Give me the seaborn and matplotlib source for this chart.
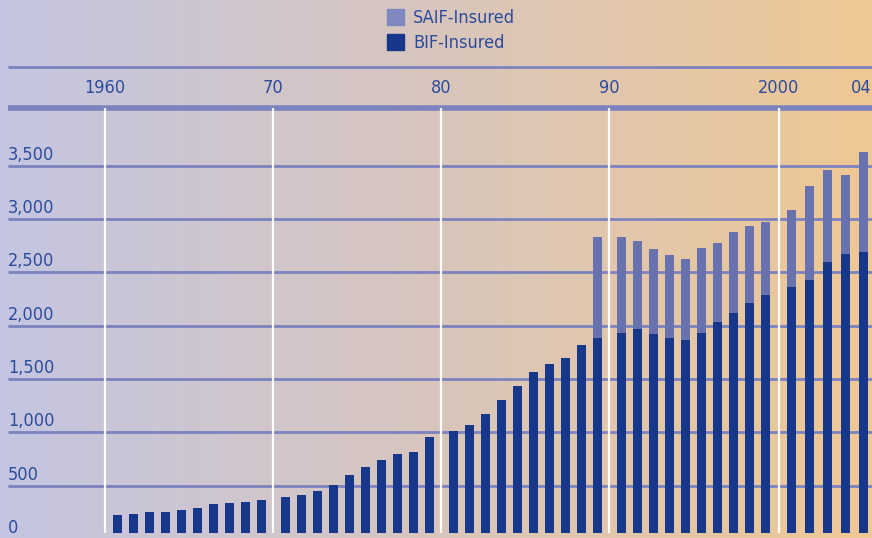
import numpy as np
import pandas as pd
import seaborn as sns
import matplotlib.pyplot as plt
from matplotlib.colors import LinearSegmentedColormap
from matplotlib.patches import Patch

# data (billions of dollars)
years = list(range(1960, 2005))
bif_insured = [225, 234, 253, 253, 272, 291, 328, 337, 347, 366,
               394, 412, 450, 506, 600, 675, 741, 797, 816, 956,
               1012, 1069, 1172, 1303, 1434, 1566, 1641, 1697, 1819, 1884,
               1931, 1969, 1922, 1884, 1866, 1931, 2034, 2119, 2212, 2287,
               2362, 2428, 2597, 2672, 2690]
saif_years = list(range(1989, 2005))
saif_insured = [947, 900, 825, 797, 778, 759, 797, 741, 759, 722,
                685, 722, 881, 862, 741, 938]
decade_labels = ['1960', '70', '80', '90', '2000']
y_ticks = [500, 1000, 1500, 2000, 2500, 3000, 3500]

BIF_COLOR = '#17388a'
SAIF_COLOR = '#6872ae'
LINE_COLOR = '#7b82be'
TEXT_COLOR = '#2d4b9c'
FONT = ['DejaVu Sans']
FS = 13


def year_pos(y):
    # bars are grouped by decade, with a half-slot gap at each decade line
    i = y - 1960
    pos = i + 0.5 * (i // 10)
    if y >= 2000:
        pos += 0.125 * (y - 1999)
    return pos


df = pd.DataFrame({'year': years, 'bif': bif_insured})
saif_map = dict(zip(saif_years, saif_insured))
df['saif'] = [saif_map.get(y, 0) for y in years]
df['total'] = df['bif'] + df['saif']
df['pos'] = [year_pos(y) for y in years]

sns.set_theme(style='white')
plt.rcParams['font.family'] = FONT
plt.rcParams['font.stretch'] = 'condensed'

W, H = 872, 538
fig = plt.figure(figsize=(W / 100, H / 100), dpi=100)

# gradient background
bg = fig.add_axes([0, 0, 1, 1])
cmap = LinearSegmentedColormap.from_list('bg', ['#c4c5e1', '#d8c6bd', '#efc894'])
bg.imshow(np.linspace(0, 1, 256)[None, :], aspect='auto', cmap=cmap,
          extent=[0, 1, 0, 1])
bg.set_axis_off()

# thin line above the decade labels
bg.plot([8 / W, 1], [1 - 67 / H, 1 - 67 / H], color=LINE_COLOR, lw=2.0,
        solid_capstyle='butt', transform=fig.transFigure)

# main axes, pixel geometry: x 8..872, y 108..533
ax = fig.add_axes([8 / W, (H - 533) / H, (W - 8) / W, (533 - 108) / H])
ax.patch.set_alpha(0)
ax.set_xlim((8 - 117.5) / 16, (872 - 117.5) / 16)
ax.set_ylim((539 - 533) / 0.10667, (539 - 108) / 0.10667)

for v in y_ticks:
    ax.axhline(v, color=LINE_COLOR, lw=2.0, zorder=0, solid_capstyle='butt')
ax.axhline(ax.get_ylim()[1], color=LINE_COLOR, lw=4.0, zorder=0,
           clip_on=False, solid_capstyle='butt')

sns.barplot(data=df, x='pos', y='total', native_scale=True, orient='x',
            color=SAIF_COLOR, saturation=1, width=0.5625, errorbar=None,
            linewidth=0, ax=ax, zorder=2)
sns.barplot(data=df, x='pos', y='bif', native_scale=True, orient='x',
            color=BIF_COLOR, saturation=1, width=0.5625, errorbar=None,
            linewidth=0, ax=ax, zorder=3)

# decade lines and labels (labels sit between the two top rules)
label_y = 1 - 88 / H
for k, lab in enumerate(decade_labels):
    xl = year_pos(1960 + 10 * k) - 12.5 / 16
    ax.axvline(xl, color='white', lw=1.6, zorder=1)
    x_fig = ax.transData.transform((xl, 0))[0] / W
    fig.text(x_fig, label_y, lab, ha='center', va='center', fontsize=FS,
             color=TEXT_COLOR)
fig.text(871 / W, label_y, '04', ha='right', va='center', fontsize=FS,
         color=TEXT_COLOR)

# y labels sit above the grid lines at the left edge
for v in [0] + y_ticks:
    y_px = 539 - v * 0.10667
    fig.text(8 / W, 1 - (y_px - 6) / H, f'{v:,}', ha='left', va='baseline',
             fontsize=FS, color=TEXT_COLOR)

ax.set_xticks([])
ax.set_yticks([])
ax.set_xlabel('')
ax.set_ylabel('')
sns.despine(ax=ax, left=True, bottom=True)

handles = [Patch(color='#8088c0', label='SAIF-Insured'),
           Patch(color=BIF_COLOR, label='BIF-Insured')]
fig.legend(handles=handles, loc='upper left', bbox_to_anchor=(387 / W, 1 - 9 / H),
           frameon=False, fontsize=FS, handlelength=0.95, handleheight=0.95,
           handletextpad=0.5, labelspacing=0.4, borderpad=0, borderaxespad=0,
           labelcolor=TEXT_COLOR)

fig.savefig('out.png', dpi=100)
